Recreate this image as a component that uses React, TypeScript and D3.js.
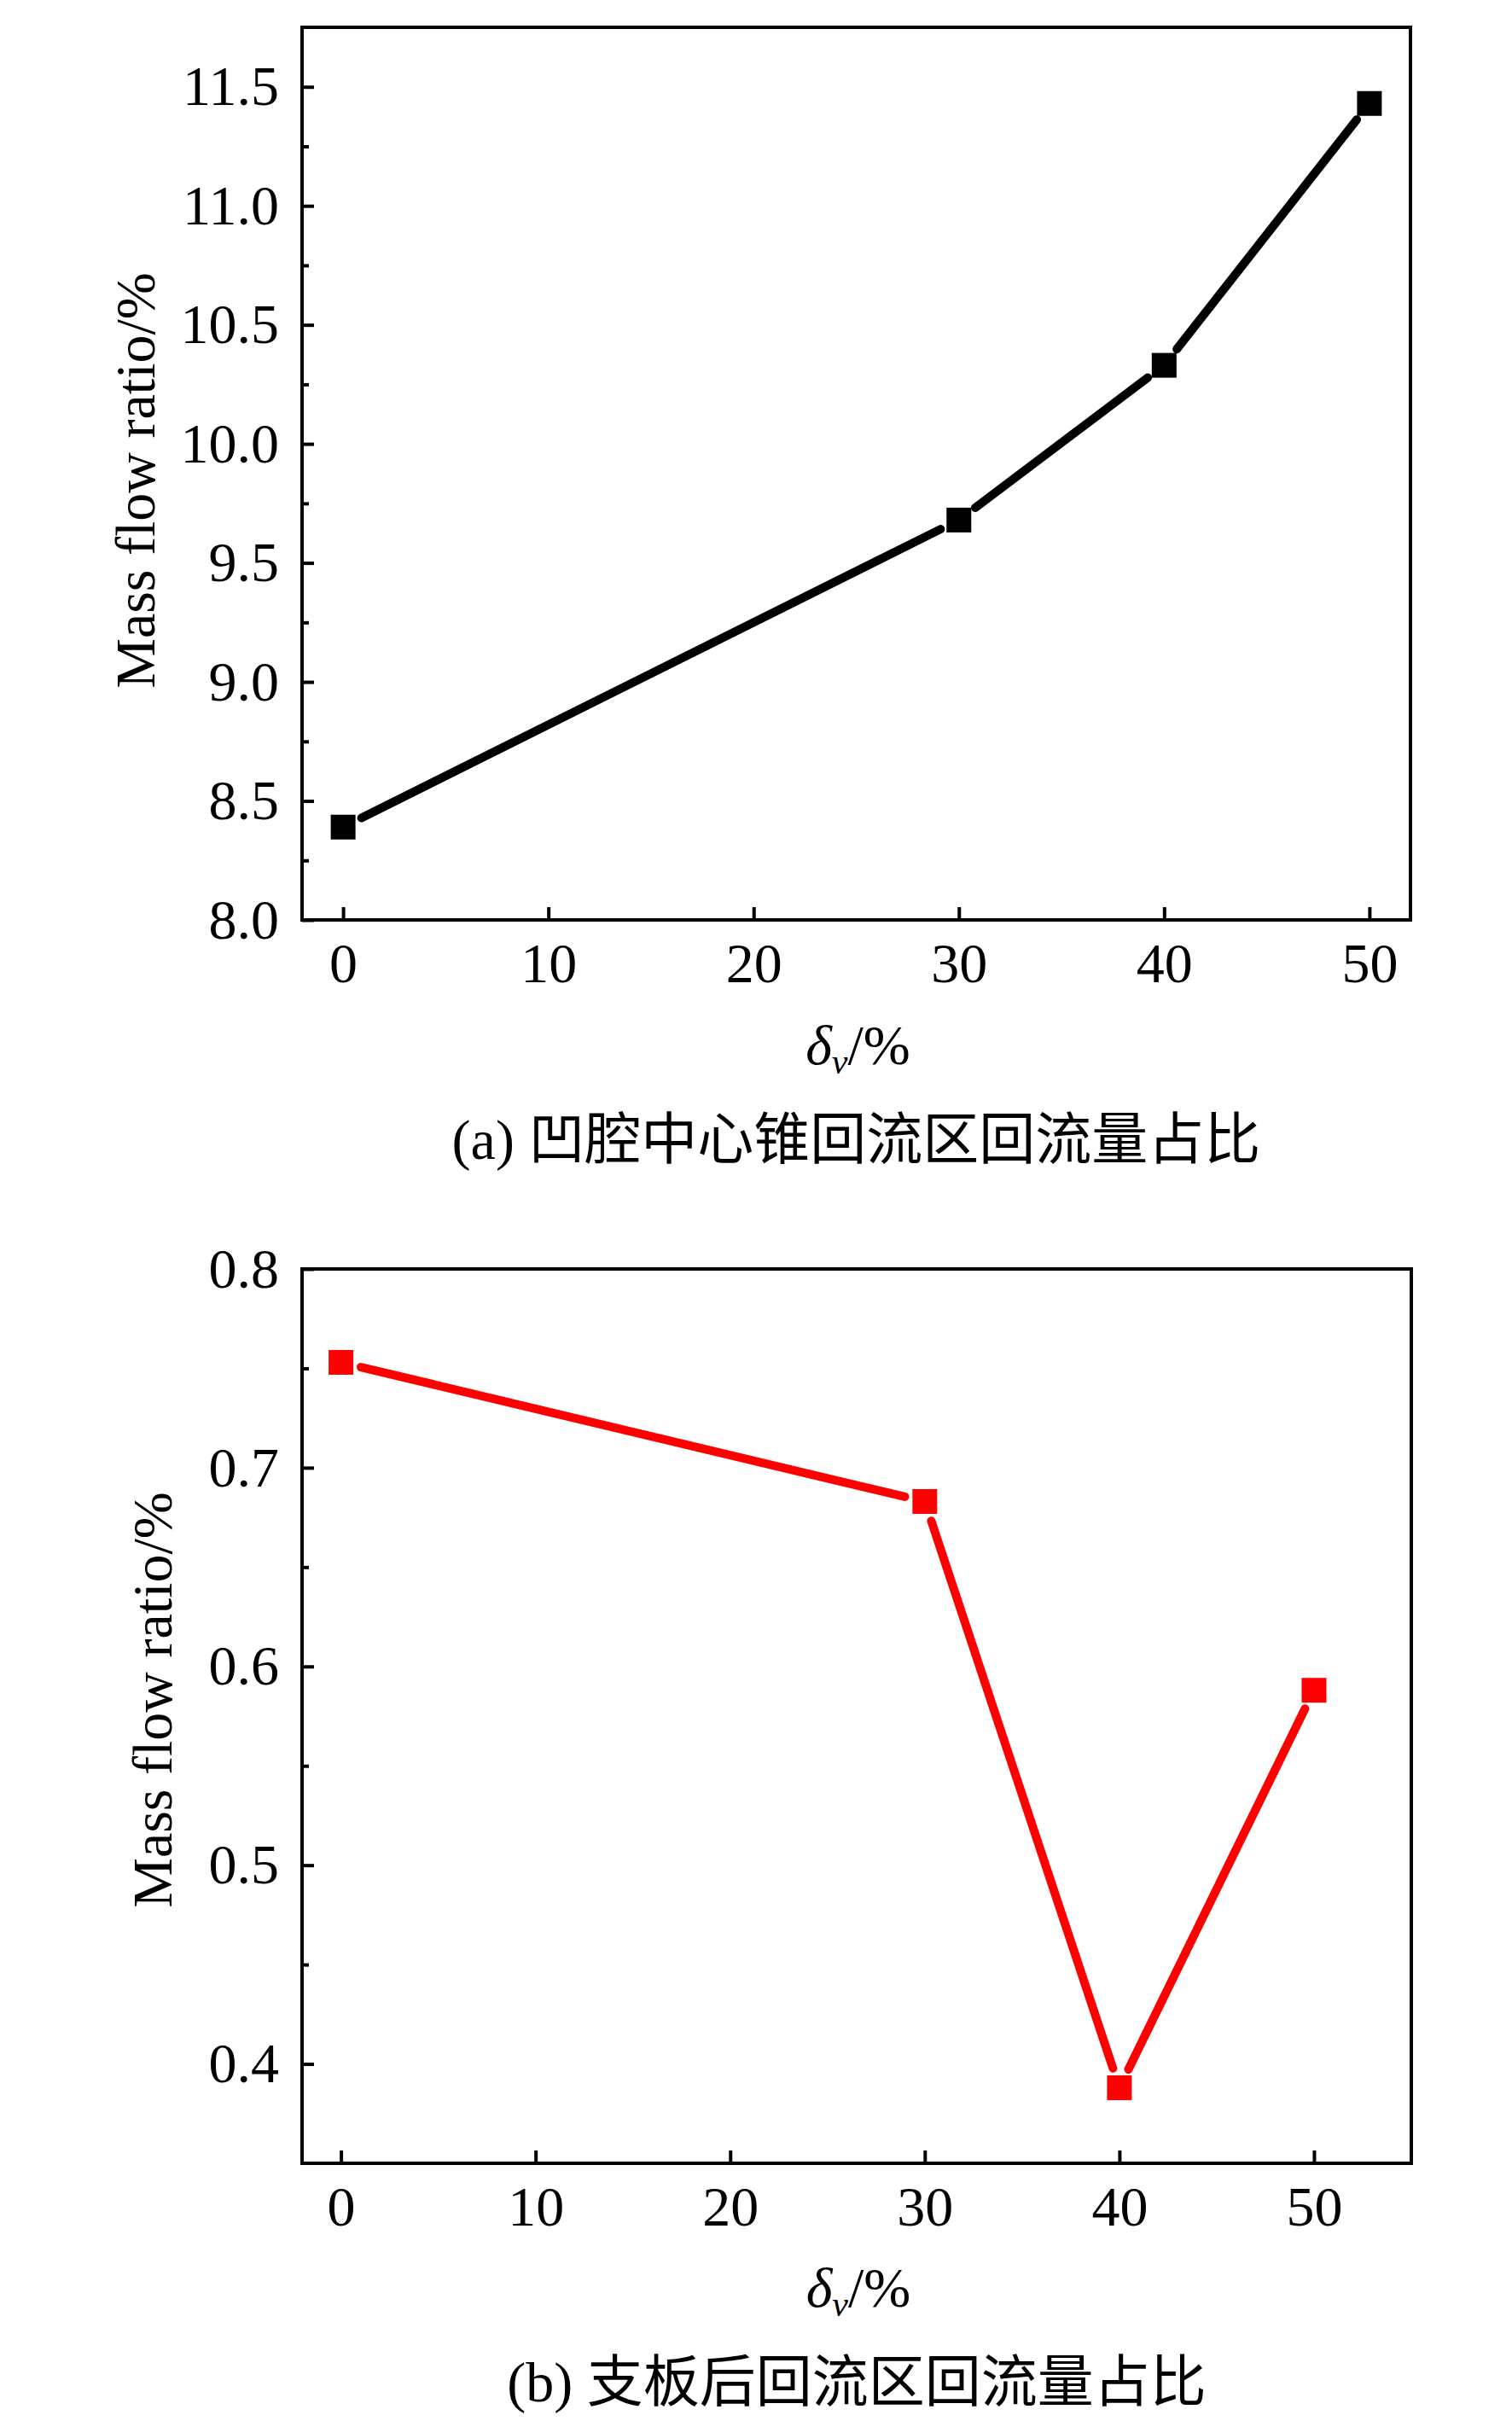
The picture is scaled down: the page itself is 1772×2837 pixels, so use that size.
import React, { useEffect, useRef } from "react";
import * as d3 from "d3";

// values
const deltaV = [0, 30, 40, 50];
const ratioA = [8.39, 9.68, 10.33, 11.43];
const ratioB = [0.753, 0.683, 0.388, 0.588];

const xTicks = [0, 10, 20, 30, 40, 50];
const yTicksA = [8.0, 8.5, 9.0, 9.5, 10.0, 10.5, 11.0, 11.5];
const yMinorA = [8.25, 8.75, 9.25, 9.75, 10.25, 10.75, 11.25];
const yTicksB = [0.4, 0.5, 0.6, 0.7, 0.8];
const yMinorB = [0.45, 0.55, 0.65, 0.75];

const captionA = "凹腔中心锥回流区回流量占比";
const captionB = "支板后回流区回流量占比";

const FONT = '"Liberation Serif", "Times New Roman", serif';
const CJK = '"Noto Sans CJK SC", sans-serif';
const FS = 66;

type Panel = {
  top: number;
  bottom: number;
  left: number;
  right: number;
  xDomain: [number, number];
  yDomain: [number, number];
  values: number[];
  color: string;
  yTicks: number[];
  yMinor: number[];
  tag: string;
  caption: string;
  yLabelPos: [number, number];
  xTitleY: number;
  captionY: number;
};

const panels: Panel[] = [
  {
    top: 32,
    bottom: 1078,
    left: 354,
    right: 1653,
    xDomain: [-2, 52],
    yDomain: [8, 11.75],
    values: ratioA,
    color: "#000000",
    yTicks: yTicksA,
    yMinor: yMinorA,
    tag: "(a) ",
    caption: captionA,
    yLabelPos: [181, 563],
    xTitleY: 1247,
    captionY: 1358,
  },
  {
    top: 1487,
    bottom: 2535,
    left: 354,
    right: 1654,
    xDomain: [-2, 55],
    yDomain: [0.35, 0.8],
    values: ratioB,
    color: "#ff0000",
    yTicks: yTicksB,
    yMinor: yMinorB,
    tag: "(b) ",
    caption: captionB,
    yLabelPos: [201, 1992],
    xTitleY: 2703,
    captionY: 2814,
  },
];

function drawPanel(svg: any, p: Panel) {
  const x = d3.scaleLinear().domain(p.xDomain).range([p.left, p.right]);
  const y = d3.scaleLinear().domain(p.yDomain).range([p.bottom, p.top]);
  const g = svg.append("g");

  // y axis (major + minor ticks, pointing inward)
  const yAxis = d3.axisLeft(y).tickValues(p.yTicks).tickSizeInner(-14).tickSizeOuter(0).tickPadding(27).tickFormat(d3.format(".1f"));
  g.append("g").attr("transform", `translate(${p.left},0)`).call(yAxis);
  const yMinorAxis = d3.axisLeft(y).tickValues(p.yMinor).tickSizeInner(-8).tickSizeOuter(0).tickFormat(() => "");
  g.append("g").attr("transform", `translate(${p.left},0)`).call(yMinorAxis);

  // x axis
  const xAxis = d3.axisBottom(x).tickValues(xTicks).tickSizeInner(-15).tickSizeOuter(0).tickPadding(26);
  g.append("g").attr("transform", `translate(0,${p.bottom})`).call(xAxis);

  g.selectAll(".domain").remove();
  g.selectAll(".tick line").attr("stroke", "#000").attr("stroke-width", 4);
  g.selectAll(".tick text").attr("fill", "#000").style("font-family", FONT).style("font-size", `${FS}px`);

  // frame
  g.append("rect")
    .attr("x", p.left)
    .attr("y", p.top)
    .attr("width", p.right - p.left)
    .attr("height", p.bottom - p.top)
    .attr("fill", "none")
    .attr("stroke", "#000")
    .attr("stroke-width", 4);

  // line segments with a gap around each symbol
  const pts = deltaV.map((d, i) => [x(d), y(p.values[i])] as [number, number]);
  const gap = 24;
  const seg = d3.line();
  for (let i = 0; i < pts.length - 1; i++) {
    const [x0, y0] = pts[i];
    const [x1, y1] = pts[i + 1];
    const len = Math.hypot(x1 - x0, y1 - y0);
    const ux = (x1 - x0) / len;
    const uy = (y1 - y0) / len;
    g.append("path")
      .attr("d", seg([
        [x0 + ux * gap, y0 + uy * gap],
        [x1 - ux * gap, y1 - uy * gap],
      ]))
      .attr("fill", "none")
      .attr("stroke", p.color)
      .attr("stroke-width", 10)
      .attr("stroke-linecap", "round");
  }

  // square symbols
  const size = 29;
  g.selectAll("rect.pt")
    .data(pts)
    .enter()
    .append("rect")
    .attr("class", "pt")
    .attr("x", (d: [number, number]) => d[0] - size / 2)
    .attr("y", (d: [number, number]) => d[1] - size / 2)
    .attr("width", size)
    .attr("height", size)
    .attr("fill", p.color);

  // y label
  g.append("text")
    .attr("transform", `translate(${p.yLabelPos[0]},${p.yLabelPos[1]}) rotate(-90)`)
    .attr("text-anchor", "middle")
    .style("font-family", FONT)
    .style("font-size", `${FS}px`)
    .text("Mass flow ratio/%");

  // x title
  const xt = g.append("text")
    .attr("x", (p.left + p.right) / 2 + 2)
    .attr("y", p.xTitleY)
    .attr("text-anchor", "middle")
    .style("font-family", FONT)
    .style("font-size", `${FS}px`);
  xt.append("tspan").style("font-style", "italic").text("δ");
  xt.append("tspan").style("font-style", "italic").style("font-size", "42px").attr("dy", 11).text("v");
  xt.append("tspan").attr("dy", -11).text("/%");

  // caption
  const cap = g.append("text")
    .attr("x", (p.left + p.right) / 2)
    .attr("y", p.captionY)
    .attr("text-anchor", "middle")
    .style("font-size", `${FS}px`);
  cap.append("tspan").style("font-family", FONT).text(p.tag);
  cap.append("tspan").style("font-family", CJK).text(p.caption);
}

function App() {
  const svgRef = useRef(null);

  useEffect(() => {
    const svg = d3.select(svgRef.current);
    svg.selectAll("*").remove();
    panels.forEach((p) => drawPanel(svg, p));
  }, []);

  return (
    <svg
      ref={svgRef}
      width={1772}
      height={2837}
      style={{ position: "absolute", left: 0, top: 0, background: "#fff" }}
    />
  );
}

export default App;
